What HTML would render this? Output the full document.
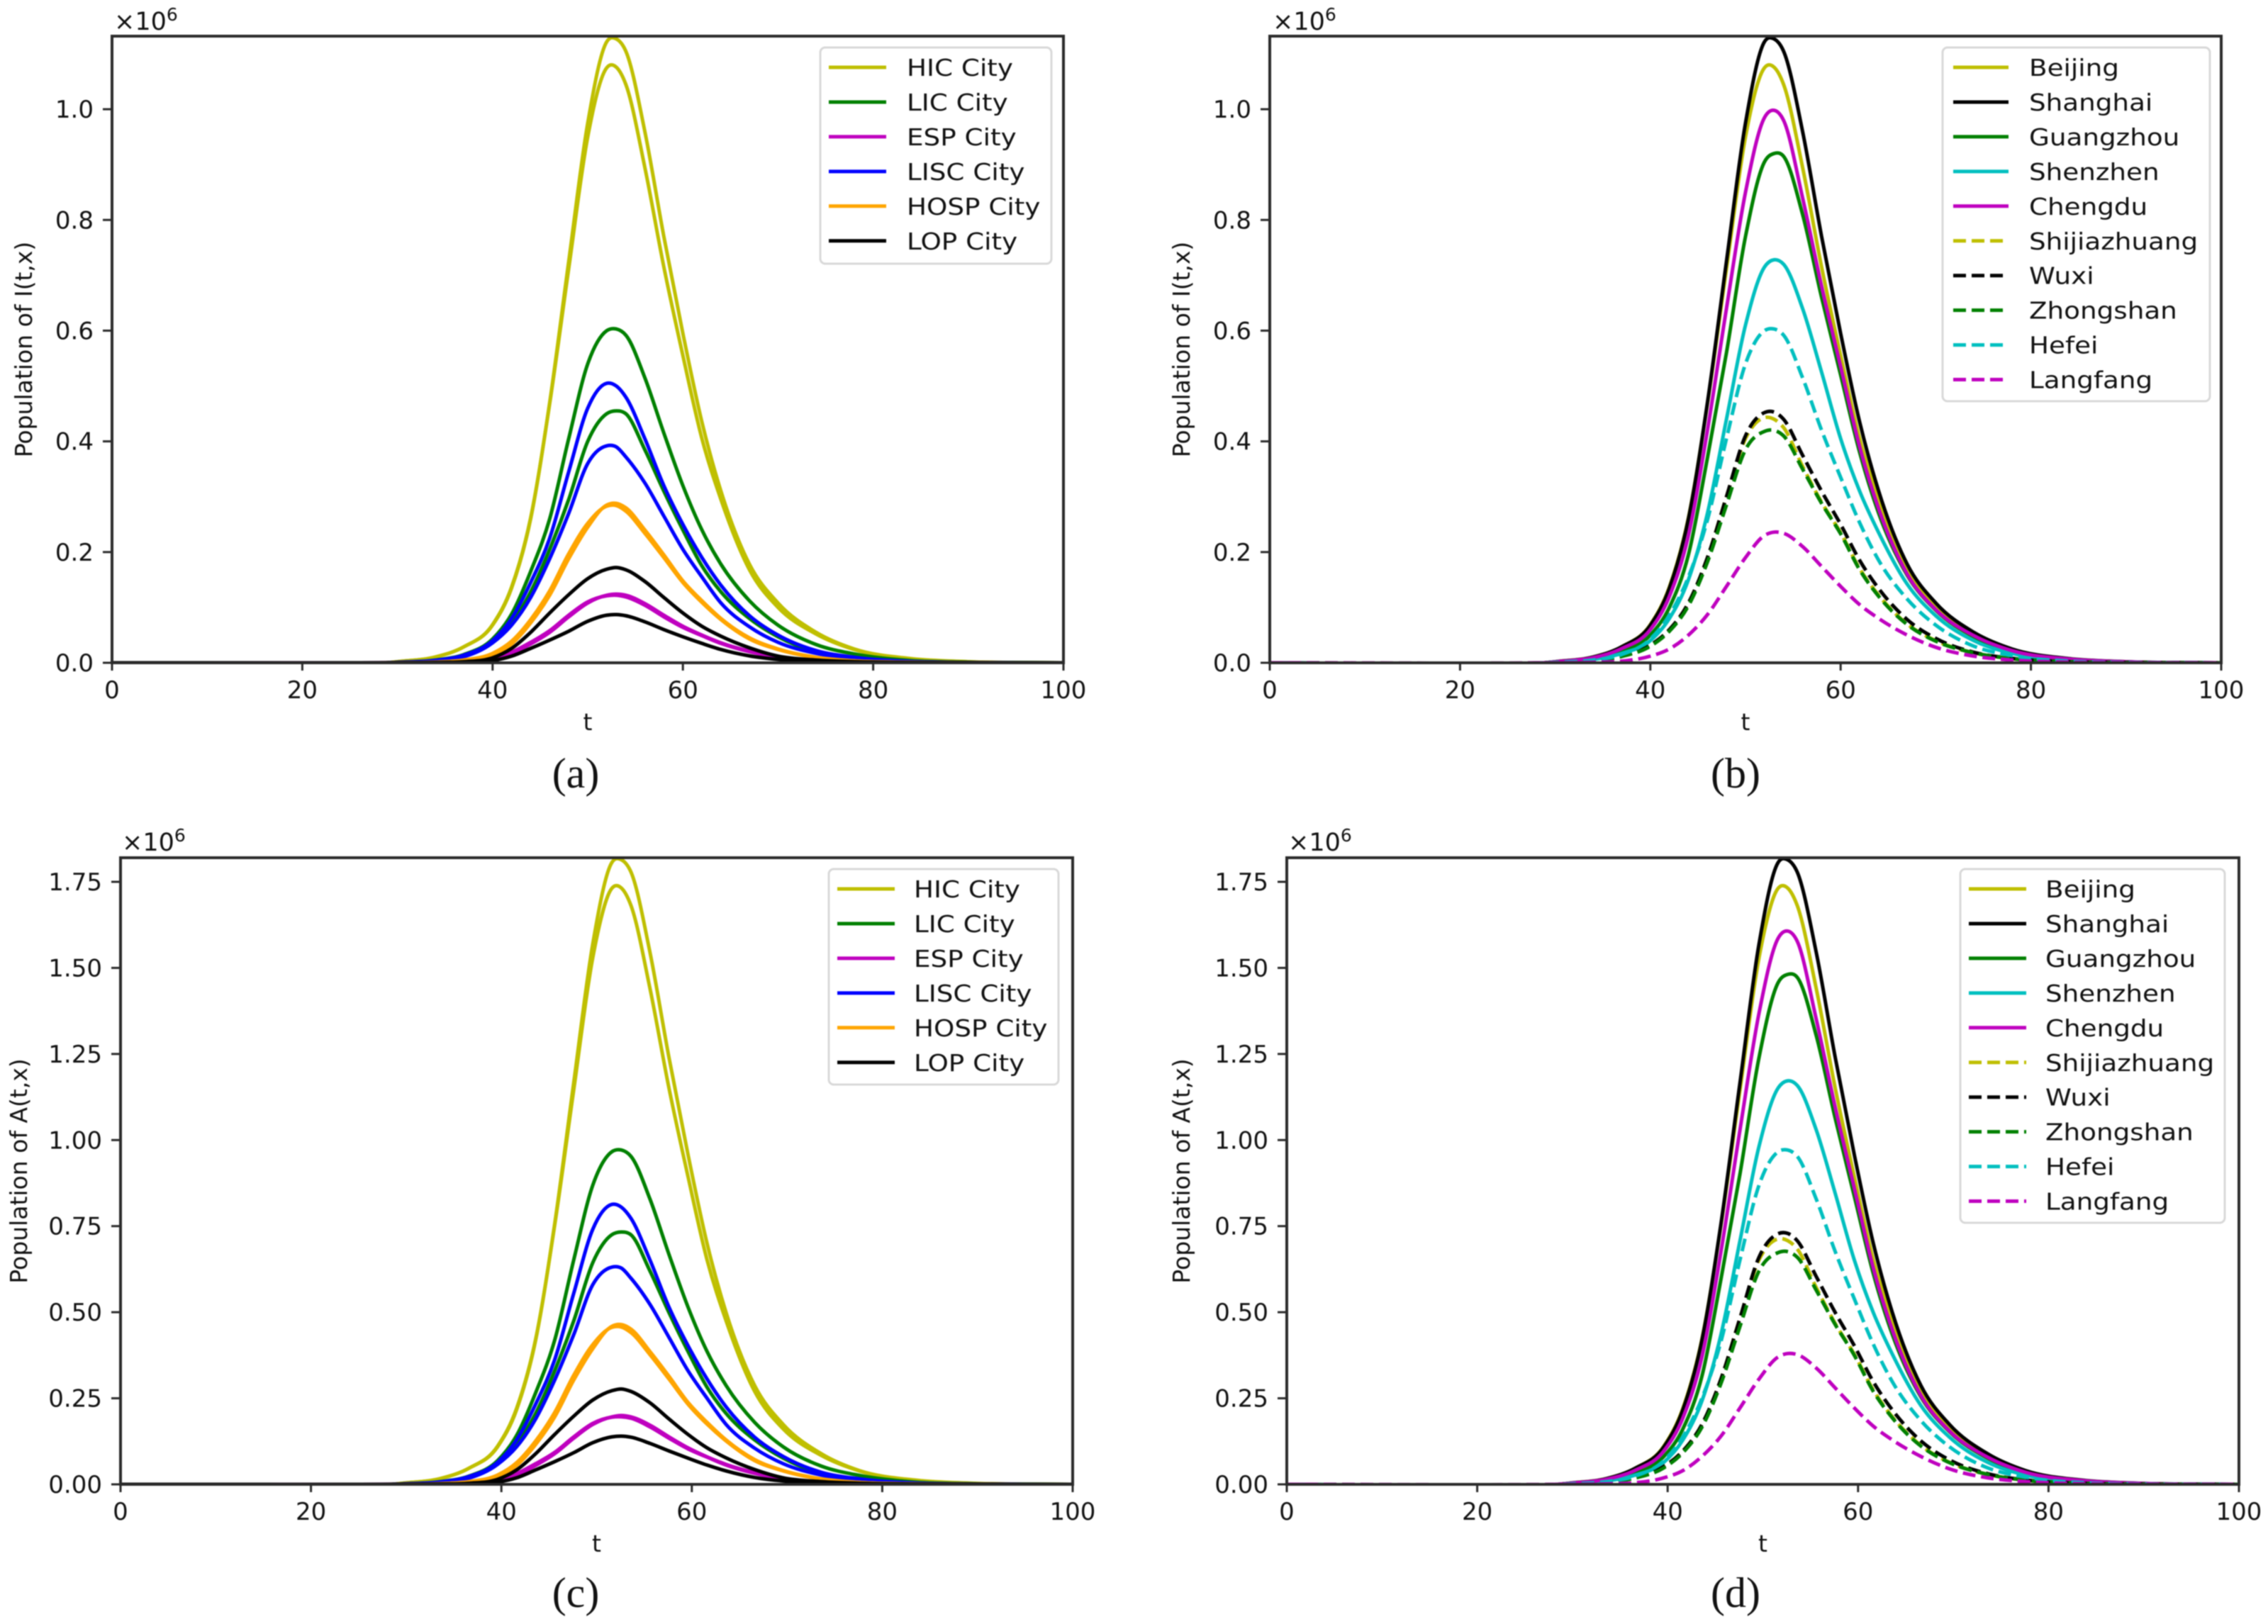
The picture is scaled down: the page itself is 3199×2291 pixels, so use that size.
<!DOCTYPE html>
<html lang="en">
<head>
<meta charset="utf-8">
<title>Population of I(t,x) and A(t,x) by city group</title>
<style>
html,body{margin:0;padding:0;background:#fff;}
#figure{display:block;width:3199px;height:2291px;background:#fff;filter:blur(0.7px);}
text{font-family:"DejaVu Sans","Liberation Sans",sans-serif;fill:#111;}
.caption{font-family:"Liberation Serif",serif;}
</style>
</head>
<body>
<svg id="figure" xmlns="http://www.w3.org/2000/svg" width="3199" height="2291" viewBox="0 0 3199 2291"></svg>
<script>
// ---- sample times (t) read along the x axis ----
const tGridI = [0,30,34,37,40,42,44,46,48,50,52,53,54,56,58,60,62,64,67,70,74,78,84,90,100];
const tGridA = [0,29.6,33.6,36.6,39.6,41.6,43.6,45.6,47.6,49.6,51.6,52.6,53.6,55.6,57.6,59.6,61.6,63.6,66.6,69.6,73.6,77.6,83.6,89.6,100];

// ---- tick values and labels ----
const xTicks = [0,20,40,60,80,100];
const xTickLabels = ["0","20","40","60","80","100"];
const yTicksI = [0,0.2,0.4,0.6,0.8,1.0];
const yTickLabelsI = ["0.0","0.2","0.4","0.6","0.8","1.0"];
const yTicksA = [0,0.25,0.5,0.75,1.0,1.25,1.5,1.75];
const yTickLabelsA = ["0.00","0.25","0.50","0.75","1.00","1.25","1.50","1.75"];

// ---- I(t,x), units of 10^6 ----
const iShanghai = [0,.002,.0105,.029,.068,.135,.26,.47,.725,.975,1.122,1.127,1.105,.96,.77,.595,.435,.31,.178,.108,.055,.025,.0075,.002,0];
const iBeijing = [0,.002,.0105,.029,.069,.137,.262,.468,.712,.95,1.075,1.076,1.045,.895,.715,.555,.405,.295,.168,.10,.052,.024,.007,.0018,0];
const iLicHigh = [0,.001,.005,.015,.043,.088,.165,.26,.405,.54,.60,.603,.592,.515,.415,.32,.24,.178,.112,.068,.033,.016,.004,.001,0];
const iLicLow = [0,.0008,.004,.012,.038,.072,.128,.205,.295,.40,.45,.455,.45,.385,.31,.24,.175,.128,.08,.047,.02,.009,.002,.0005,0];
const iLiscHigh = [0,.0009,.0045,.014,.04,.08,.145,.225,.345,.46,.505,.50,.48,.405,.32,.25,.19,.14,.085,.05,.022,.01,.0025,.0006,0];
const iLiscLow = [0,.0007,.0035,.011,.036,.068,.118,.188,.27,.36,.392,.39,.372,.325,.265,.205,.155,.108,.065,.037,.017,.007,.0017,.0004,0];
const iHospHigh = [0,.0002,.0012,.004,.014,.034,.072,.122,.188,.245,.285,.288,.28,.24,.195,.148,.112,.08,.045,.025,.01,.0035,.001,.0002,0];
const iHospLow = [0,.0003,.0014,.005,.017,.039,.078,.13,.197,.252,.283,.284,.274,.234,.19,.145,.109,.078,.043,.024,.0095,.0033,.0009,.0002,0];
const iLopHigh = [0,.0001,.0006,.002,.009,.026,.055,.09,.123,.152,.169,.172,.168,.147,.118,.09,.066,.048,.027,.012,.005,.002,.0005,.0001,0];
const iLopLow = [0,.0001,.0003,.001,.004,.012,.026,.041,.057,.075,.086,.087,.085,.074,.06,.047,.035,.024,.0125,.006,.0025,.001,.0002,.0001,0];
const iEspHigh = [0,.0001,.0004,.0015,.0055,.017,.034,.055,.083,.108,.122,.124,.122,.107,.086,.066,.05,.036,.021,.0105,.004,.0015,.0004,.0001,0];
const iEspLow = [0,.0002,.0006,.002,.0065,.019,.037,.058,.086,.11,.121,.122,.119,.104,.083,.064,.049,.035,.02,.01,.0038,.0014,.0004,.0001,0];
const iGuangzhou = [0,.0015,.0075,.021,.05,.10,.195,.37,.56,.77,.905,.92,.915,.81,.66,.52,.38,.27,.158,.095,.047,.021,.0065,.0016,0];
const iShenzhen = [0,.0012,.006,.017,.04,.08,.15,.27,.44,.61,.715,.728,.72,.64,.525,.405,.31,.235,.142,.085,.04,.017,.0045,.001,0];
const iChengdu = [0,.0018,.0093,.0257,.06,.12,.23,.42,.64,.85,.985,.998,.98,.84,.68,.535,.39,.278,.16,.096,.049,.022,.0067,.0018,0];
const iShijiazhuang = [0,.0008,.004,.012,.032,.06,.108,.19,.30,.405,.443,.44,.425,.355,.29,.235,.17,.122,.07,.04,.018,.0075,.002,.0005,0];
const iWuxi = [0,.0008,.004,.012,.032,.06,.108,.19,.30,.41,.452,.453,.44,.375,.31,.25,.185,.134,.078,.044,.019,.008,.002,.0005,0];
const iZhongshan = [0,.0008,.0038,.0115,.03,.057,.103,.182,.285,.385,.418,.42,.41,.35,.288,.233,.168,.12,.069,.039,.018,.0075,.002,.0005,0];
const iHefei = [0,.001,.005,.015,.043,.086,.155,.258,.405,.54,.60,.603,.592,.515,.42,.335,.253,.185,.115,.068,.03,.013,.003,.0008,0];
const iLangfang = [0,.0002,.001,.003,.012,.025,.05,.087,.138,.19,.23,.236,.234,.21,.174,.138,.105,.08,.05,.028,.012,.005,.0012,.0003,0];

// ---- A(t,x), units of 10^6 ----
const aShanghai = [0,.0032,.0169,.047,.109,.217,.419,.757,1.167,1.57,1.806,1.814,1.779,1.546,1.24,.958,.7,.499,.287,.174,.089,.04,.012,.0032,0];
const aBeijing = [0,.0032,.0169,.047,.111,.221,.422,.753,1.146,1.53,1.731,1.732,1.682,1.441,1.151,.894,.652,.475,.27,.161,.084,.039,.0113,.0029,0];
const aLicHigh = [0,.0016,.0081,.024,.069,.142,.266,.419,.652,.869,.966,.971,.953,.829,.668,.515,.386,.287,.18,.109,.053,.026,.0064,.0016,0];
const aLicLow = [0,.0013,.0064,.019,.061,.116,.206,.33,.475,.644,.725,.733,.725,.62,.499,.386,.282,.206,.129,.076,.032,.0145,.0032,.0008,0];
const aLiscHigh = [0,.0014,.0072,.023,.064,.129,.233,.362,.555,.741,.813,.805,.773,.652,.515,.403,.306,.225,.137,.081,.035,.016,.004,.001,0];
const aLiscLow = [0,.0011,.0056,.018,.058,.109,.19,.303,.435,.58,.631,.628,.599,.523,.427,.33,.25,.174,.105,.06,.027,.0113,.0027,.0006,0];
const aHospHigh = [0,.0003,.0019,.0064,.023,.055,.116,.196,.303,.394,.459,.464,.451,.386,.314,.238,.18,.129,.072,.04,.016,.0056,.0016,.0003,0];
const aHospLow = [0,.0005,.0023,.008,.027,.063,.126,.209,.317,.406,.456,.457,.441,.377,.306,.233,.175,.126,.069,.039,.0153,.0053,.0014,.0003,0];
const aLopHigh = [0,.0002,.001,.0032,.0145,.042,.089,.145,.198,.245,.272,.277,.27,.237,.19,.145,.106,.077,.043,.019,.008,.0032,.0008,.0002,0];
const aLopLow = [0,.0002,.0005,.0016,.0064,.019,.042,.066,.092,.121,.138,.14,.137,.119,.097,.076,.056,.039,.02,.0097,.004,.0016,.0003,.0002,0];
const aEspHigh = [0,.0002,.0006,.0024,.0089,.027,.055,.089,.134,.174,.196,.2,.196,.172,.138,.106,.08,.058,.034,.017,.0064,.0024,.0006,.0002,0];
const aEspLow = [0,.0003,.001,.0032,.0105,.031,.06,.093,.138,.177,.195,.196,.192,.167,.134,.103,.079,.056,.032,.016,.0061,.0023,.0006,.0002,0];
const aGuangzhou = [0,.0024,.0121,.034,.081,.161,.314,.596,.902,1.24,1.457,1.481,1.473,1.304,1.063,.837,.612,.435,.254,.153,.076,.034,.0105,.0026,0];
const aShenzhen = [0,.0019,.0097,.027,.064,.129,.242,.435,.708,.982,1.151,1.172,1.159,1.03,.845,.652,.499,.378,.229,.137,.064,.027,.0072,.0016,0];
const aChengdu = [0,.0029,.015,.041,.097,.193,.37,.676,1.03,1.369,1.586,1.607,1.578,1.352,1.095,.861,.628,.448,.258,.155,.079,.035,.0108,.0029,0];
const aShijiazhuang = [0,.0013,.0064,.019,.052,.097,.174,.306,.483,.652,.713,.708,.684,.572,.467,.378,.274,.196,.113,.064,.029,.0121,.0032,.0008,0];
const aWuxi = [0,.0013,.0064,.019,.052,.097,.174,.306,.483,.66,.728,.729,.708,.604,.499,.403,.298,.216,.126,.071,.031,.0129,.0032,.0008,0];
const aZhongshan = [0,.0013,.0061,.0185,.048,.092,.166,.293,.459,.62,.673,.676,.66,.564,.464,.375,.27,.193,.111,.063,.029,.0121,.0032,.0008,0];
const aHefei = [0,.0016,.0081,.024,.069,.138,.25,.415,.652,.869,.966,.971,.953,.829,.676,.539,.407,.298,.185,.109,.048,.021,.0048,.0013,0];
const aLangfang = [0,.0003,.0016,.0048,.019,.04,.081,.14,.222,.306,.37,.38,.377,.338,.28,.222,.169,.129,.081,.045,.019,.008,.0019,.0005,0];

// ---- colours ----
const OLIVE = '#bfbf00', GREEN = '#008000', MAGENTA = '#bf00bf', BLUE = '#0000ff', ORANGE = '#ffa500', BLACK = '#000000', CYAN = '#00bfbf';

function groupSeries(v) {
  return [
    {key:'hic-city-high', color:OLIVE, values:v[0]}, {key:'hic-city-low', color:OLIVE, values:v[1]},
    {key:'lic-city-high', color:GREEN, values:v[2]}, {key:'lic-city-low', color:GREEN, values:v[3]},
    {key:'esp-city-high', color:MAGENTA, values:v[4]}, {key:'esp-city-low', color:MAGENTA, values:v[5]},
    {key:'lisc-city-high', color:BLUE, values:v[6]}, {key:'lisc-city-low', color:BLUE, values:v[7]},
    {key:'hosp-city-high', color:ORANGE, values:v[8]}, {key:'hosp-city-low', color:ORANGE, values:v[9]},
    {key:'lop-city-high', color:BLACK, values:v[10]}, {key:'lop-city-low', color:BLACK, values:v[11]}
  ];
}
function citySeries(v) {
  return [
    {key:'beijing', color:OLIVE, values:v[0]}, {key:'shanghai', color:BLACK, values:v[1]},
    {key:'guangzhou', color:GREEN, values:v[2]}, {key:'shenzhen', color:CYAN, values:v[3]},
    {key:'chengdu', color:MAGENTA, values:v[4]}, {key:'shijiazhuang', color:OLIVE, dash:true, values:v[5]},
    {key:'wuxi', color:BLACK, dash:true, values:v[6]}, {key:'zhongshan', color:GREEN, dash:true, values:v[7]},
    {key:'hefei', color:CYAN, dash:true, values:v[8]}, {key:'langfang', color:MAGENTA, dash:true, values:v[9]}
  ];
}
const groupLegend = [
  ['HIC City',OLIVE,false],['LIC City',GREEN,false],['ESP City',MAGENTA,false],
  ['LISC City',BLUE,false],['HOSP City',ORANGE,false],['LOP City',BLACK,false]
];
const cityLegend = [
  ['Beijing',OLIVE,false],['Shanghai',BLACK,false],['Guangzhou',GREEN,false],['Shenzhen',CYAN,false],['Chengdu',MAGENTA,false],
  ['Shijiazhuang',OLIVE,true],['Wuxi',BLACK,true],['Zhongshan',GREEN,true],['Hefei',CYAN,true],['Langfang',MAGENTA,true]
];

const panels = [
  {id:'a', l:158, r:1500, t:51, b:935, yMax:1.132, grid:tGridI, ticks:yTicksI, tickLabels:yTickLabelsI, ylabel:'Population of I(t,x)', ylabelX:45, expX:161, expY:42, caption:'(a)', capX:812, capY:1111,
   series:groupSeries([iShanghai,iBeijing,iLicHigh,iLicLow,iEspHigh,iEspLow,iLiscHigh,iLiscLow,iHospHigh,iHospLow,iLopHigh,iLopLow]),
   legend:groupLegend, legL:1157, legR:1483, legT:67, legB:372, lineL:1169, lineR:1250, textX:1279, row0:95},
  {id:'b', l:1791, r:3133, t:51, b:935, yMax:1.132, grid:tGridI, ticks:yTicksI, tickLabels:yTickLabelsI, ylabel:'Population of I(t,x)', ylabelX:1678, expX:1795, expY:42, caption:'(b)', capX:2448, capY:1111,
   series:citySeries([iBeijing,iShanghai,iGuangzhou,iShenzhen,iChengdu,iShijiazhuang,iWuxi,iZhongshan,iHefei,iLangfang]),
   legend:cityLegend, legL:2740, legR:3117, legT:67, legB:566, lineL:2755, lineR:2833, textX:2862, row0:95},
  {id:'c', l:170, r:1513, t:1210, b:2094, yMax:1.82, grid:tGridA, ticks:yTicksA, tickLabels:yTickLabelsA, ylabel:'Population of A(t,x)', ylabelX:38, expX:172, expY:1200, caption:'(c)', capX:812, capY:2267,
   series:groupSeries([aShanghai,aBeijing,aLicHigh,aLicLow,aEspHigh,aEspLow,aLiscHigh,aLiscLow,aHospHigh,aHospLow,aLopHigh,aLopLow]),
   legend:groupLegend, legL:1169, legR:1493, legT:1226, legB:1530, lineL:1181, lineR:1262, textX:1289, row0:1254},
  {id:'d', l:1815, r:3158, t:1210, b:2094, yMax:1.82, grid:tGridA, ticks:yTicksA, tickLabels:yTickLabelsA, ylabel:'Population of A(t,x)', ylabelX:1678, expX:1817, expY:1200, caption:'(d)', capX:2448, capY:2267,
   series:citySeries([aBeijing,aShanghai,aGuangzhou,aShenzhen,aChengdu,aShijiazhuang,aWuxi,aZhongshan,aHefei,aLangfang]),
   legend:cityLegend, legL:2765, legR:3138, legT:1226, legB:1725, lineL:2777, lineR:2858, textX:2885, row0:1254}
];

const NS = 'http://www.w3.org/2000/svg';
const svg = document.getElementById('figure');
function make(tag, parent, attrs) {
  const el = document.createElementNS(NS, tag);
  for (const k in attrs) el.setAttribute(k, attrs[k]);
  parent.appendChild(el);
  return el;
}
const SPINE = '#2a2a2a';

// Smooth curve through the sample points (cubic Hermite with 3-point tangents)
function curvePath(ts, vs, X, Y) {
  const n = ts.length, m = [];
  for (let i = 0; i < n; i++) {
    if (i === 0) m.push((vs[1]-vs[0])/(ts[1]-ts[0]));
    else if (i === n-1) m.push((vs[n-1]-vs[n-2])/(ts[n-1]-ts[n-2]));
    else {
      const h0 = ts[i]-ts[i-1], h1 = ts[i+1]-ts[i];
      m.push(((vs[i+1]-vs[i])/h1*h0 + (vs[i]-vs[i-1])/h0*h1)/(h0+h1));
    }
  }
  let d = 'M' + X(ts[0]).toFixed(2) + ' ' + Y(vs[0]).toFixed(2);
  for (let i = 0; i < n-1; i++) {
    const h = ts[i+1]-ts[i];
    d += ' C' + X(ts[i]+h/3).toFixed(2) + ' ' + Y(vs[i]+m[i]*h/3).toFixed(2) + ' ' +
         X(ts[i+1]-h/3).toFixed(2) + ' ' + Y(vs[i+1]-m[i+1]*h/3).toFixed(2) + ' ' +
         X(ts[i+1]).toFixed(2) + ' ' + Y(vs[i+1]).toFixed(2);
  }
  return d;
}

panels.forEach(function (p) {
  const X = function (t) { return p.l + (p.r - p.l) * t / 100; };
  const Y = function (v) { return p.b - (p.b - p.t) * v / p.yMax; };

  const g = make('g', svg, {});
  
  

  const defs = make('defs', g, {});
  const clip = make('clipPath', defs, {id:'clip-' + p.id});
  make('rect', clip, {x:p.l, y:p.t, width:p.r-p.l, height:p.b-p.t});

  const seriesGroup = make('g', g, {'clip-path':'url(#clip-' + p.id + ')'});
  
  
  p.series.forEach(function (s) {
    const line = make('path', seriesGroup, {d:curvePath(p.grid, s.values, X, Y), fill:'none', stroke:s.color, 'stroke-width':5, 'stroke-linejoin':'round'});
    if (s.dash) line.setAttribute('stroke-dasharray', '18 8');
    
    
  });

  const frame = make('rect', g, {x:p.l, y:p.t, width:p.r-p.l, height:p.b-p.t, fill:'none', stroke:SPINE, 'stroke-width':4});
  
  

  xTicks.forEach(function (t, i) {
    const tick = make('line', g, {x1:X(t), x2:X(t), y1:p.b, y2:p.b+11, stroke:SPINE, 'stroke-width':3});
    
    
    const label = make('text', g, {x:X(t), y:p.b+50, 'font-size':34, 'text-anchor':'middle'});
    label.textContent = xTickLabels[i];
    
    
  });
  p.ticks.forEach(function (v, i) {
    const tick = make('line', g, {x1:p.l-13, x2:p.l, y1:Y(v), y2:Y(v), stroke:SPINE, 'stroke-width':3});
    
    
    const label = make('text', g, {x:p.l-26, y:Y(v)+12, 'font-size':34, 'text-anchor':'end'});
    label.textContent = p.tickLabels[i];
    
    
  });

  const xTitle = make('text', g, {x:(p.l+p.r)/2, y:p.b+95, 'font-size':33, 'text-anchor':'middle'});
  xTitle.textContent = 't';
  
  

  const yTitle = make('text', g, {x:0, y:0, 'font-size':33, 'text-anchor':'middle', transform:'translate(' + p.ylabelX + ' ' + ((p.t+p.b)/2) + ') rotate(-90)'});
  yTitle.textContent = p.ylabel;
  
  

  const expo = make('text', g, {x:p.expX, y:p.expY, 'font-size':35});
  expo.textContent = '×10';
  const expoSup = make('tspan', expo, {dy:-13, 'font-size':25});
  expoSup.textContent = '6';
  
  

  const leg = make('g', g, {});
  
  
  const box = make('rect', leg, {x:p.legL, y:p.legT, width:p.legR-p.legL, height:p.legB-p.legT, rx:7, fill:'#fff', 'fill-opacity':0.85, stroke:'#d8d8d8', 'stroke-width':3});
  
  
  p.legend.forEach(function (e, i) {
    const y = p.row0 + i * 48.95;
    const sw = make('line', leg, {x1:p.lineL, x2:p.lineR, y1:y, y2:y, stroke:e[1], 'stroke-width':5});
    if (e[2]) sw.setAttribute('stroke-dasharray', '18 8');
    
    
    const txt = make('text', leg, {x:0, y:0, 'font-size':33, transform:'translate(' + p.textX + ' ' + (y+12) + ') scale(1.13 1)'});
    txt.textContent = e[0];
    
    
  });

  const cap = make('text', g, {x:p.capX, y:p.capY, 'font-size':60, 'text-anchor':'middle', 'class':'caption'});
  cap.textContent = p.caption;
  
  
});
</script>
</body>
</html>
